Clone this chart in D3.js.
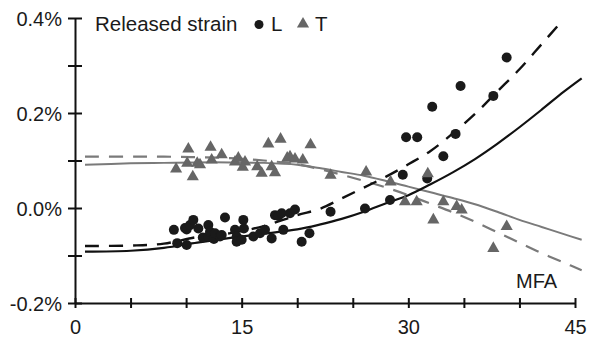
<!DOCTYPE html>
<html>
<head>
<meta charset="utf-8">
<script src="https://cdn.jsdelivr.net/npm/d3@7"></script>
<style>
  body { margin: 0; background: #fff; }
  svg text { font-family: "Liberation Sans", Arial, sans-serif; fill: #1a1a1a; }
</style>
</head>
<body>
<svg width="596" height="338"></svg>
<script>
// released strain, L (circles)
const mfaL = [8.9, 9.2, 9.9, 10.05, 10.05, 10.35, 10.65, 11.1, 11.5, 12.0, 12.0, 12.15, 12.5, 12.6, 13.05, 13.2, 13.5,
  14.4, 14.55, 14.55, 15.0, 15.15, 15.2, 16.05, 16.65, 17.1, 17.7, 18.0, 18.3, 18.6, 18.75, 19.35, 19.8, 20.4, 21.1,
  23.0, 26.1, 28.35, 29.5, 31.7, 29.8, 30.8, 32.15, 33.15, 34.25, 34.7, 37.65, 38.85];
const strainL = [-0.046, -0.074, -0.042, -0.045, -0.078, -0.036, -0.025, -0.043, -0.062, -0.036, -0.060, -0.050, -0.065, -0.053, -0.060, -0.057, -0.020,
  -0.046, -0.060, -0.071, -0.067, -0.025, -0.043, -0.060, -0.053, -0.046, -0.064, -0.015, -0.017, -0.011, -0.046, -0.011, -0.003, -0.071, -0.053,
  -0.008, -0.001, 0.017, 0.070, 0.062, 0.149, 0.149, 0.213, 0.109, 0.156, 0.257, 0.236, 0.317];

// released strain, T (triangles)
const mfaT = [9.1, 10.2, 10.1, 10.6, 11.0, 11.25, 12.2, 12.3, 13.2, 14.4, 14.7, 15.1, 15.3, 16.4, 16.8, 17.4, 17.7, 18.0,
  18.5, 19.1, 19.35, 19.8, 20.5, 21.2, 23.0, 26.2, 28.4, 29.7, 30.75, 31.75, 32.25, 33.15, 34.35, 34.8, 37.65, 38.85];
const strainT = [0.082, 0.124, 0.094, 0.066, 0.094, 0.091, 0.128, 0.101, 0.112, 0.097, 0.105, 0.086, 0.097, 0.087, 0.073, 0.135, 0.087, 0.074,
  0.145, 0.105, 0.108, 0.103, 0.101, 0.133, 0.069, 0.076, 0.055, 0.013, 0.013, 0.072, -0.025, 0.013, 0.003, -0.004, -0.085, -0.039];

// fitted curves
const fitMfa     = [0.9, 5, 8, 11, 14, 17, 20, 22, 24, 26, 28, 30, 32, 34, 36, 38, 40, 42, 44, 45.6];
const fitLSolid  = [-0.092, -0.090, -0.084, -0.073, -0.063, -0.054, -0.045, -0.035, -0.023, -0.008, 0.010, 0.027, 0.050, 0.075, 0.103, 0.135, 0.170, 0.207, 0.245, 0.273];
const fitLDashed = [-0.080, -0.079, -0.075, -0.061, -0.053, -0.038, -0.015, -0.002, 0.020, 0.043, 0.066, 0.092, 0.120, 0.157, 0.198, 0.245, 0.292, 0.345, 0.398, null];
const fitTSolid  = [0.091, 0.094, 0.095, 0.096, 0.096, 0.095, 0.091, 0.084, 0.076, 0.068, 0.057, 0.045, 0.033, 0.021, 0.008, -0.008, -0.025, -0.040, -0.055, -0.067];
const fitTDashed = [0.108, 0.108, 0.108, 0.107, 0.105, 0.100, 0.092, 0.082, 0.070, 0.057, 0.043, 0.027, 0.009, -0.009, -0.029, -0.051, -0.073, -0.095, -0.115, -0.131];

const xTicks = [0, 5, 10, 15, 20, 25, 30, 35, 40, 45];
const xLabels = [0, 15, 30, 45];
const yTicks = [-0.2, -0.1, 0, 0.1, 0.2, 0.3, 0.4];
const yLabels = [-0.2, 0, 0.2, 0.4];

const svg = d3.select("svg");

const x = d3.scaleLinear().domain([0, 45]).range([75, 575]);
const y = d3.scaleLinear().domain([-0.2, 0.4]).range([303, 18]);

// axes
const gx = svg.append("g")
  .attr("transform", "translate(0," + y(-0.2) + ")")
  .call(d3.axisBottom(x).tickValues(xTicks).tickSizeOuter(0).tickSizeInner(5).tickPadding(12)
    .tickFormat(d => xLabels.includes(d) ? String(d) : ""));
gx.select(".domain").attr("stroke", "#111").attr("stroke-width", 2);
gx.selectAll(".tick line").attr("y1", -5).attr("y2", 5).attr("stroke", "#111").attr("stroke-width", 2);
gx.selectAll(".tick text").style("font-size", "20px").attr("dy", "0.71em");

const gy = svg.append("g")
  .attr("transform", "translate(" + x(0) + ",0)")
  .call(d3.axisLeft(y).tickValues(yTicks).tickSizeOuter(0).tickSizeInner(7).tickPadding(6)
    .tickFormat(d => yLabels.some(v => Math.abs(v - d) < 1e-9) ? d.toFixed(1) + "%" : ""));
gy.select(".domain").attr("stroke", "#111").attr("stroke-width", 2);
gy.selectAll(".tick line").attr("x1", 7).attr("x2", -7).attr("stroke", "#111").attr("stroke-width", 2);
gy.selectAll(".tick text").style("font-size", "20px").attr("dy", "0.36em");

// fitted lines
function fitLine(vals) {
  return d3.line()
    .defined((d, i) => vals[i] !== null)
    .x((d, i) => x(fitMfa[i]))
    .y((d, i) => y(vals[i]))
    .curve(d3.curveCatmullRom)(fitMfa);
}

svg.append("path").attr("d", fitLine(fitTSolid))
  .attr("fill", "none").attr("stroke", "#7a7a7a").attr("stroke-width", 2);
svg.append("path").attr("d", fitLine(fitTDashed))
  .attr("fill", "none").attr("stroke", "#7a7a7a").attr("stroke-width", 2.2).attr("stroke-dasharray", "14,10");
svg.append("path").attr("d", fitLine(fitLSolid))
  .attr("fill", "none").attr("stroke", "#111").attr("stroke-width", 2.2);
svg.append("path").attr("d", fitLine(fitLDashed))
  .attr("fill", "none").attr("stroke", "#111").attr("stroke-width", 2.4).attr("stroke-dasharray", "14,10");

// points
const tri = d3.symbol().type(d3.symbolTriangle).size(64);

svg.append("g").selectAll("circle")
  .data(mfaL)
  .enter().append("circle")
  .attr("cx", d => x(d))
  .attr("cy", (d, i) => y(strainL[i]))
  .attr("r", 5)
  .attr("fill", "#1a1a1a");

svg.append("g").selectAll("path")
  .data(mfaT)
  .enter().append("path")
  .attr("d", tri)
  .attr("transform", (d, i) => "translate(" + x(d) + "," + y(strainT[i]) + ")")
  .attr("fill", "#666");

// legend
const lg = svg.append("g");
lg.append("text").attr("x", 95).attr("y", 31).style("font-size", "20.5px").text("Released strain");
lg.append("circle").attr("cx", 259).attr("cy", 24.5).attr("r", 4.5).attr("fill", "#1a1a1a");
lg.append("text").attr("x", 271).attr("y", 31).style("font-size", "20.5px").text("L");
lg.append("path").attr("d", tri).attr("transform", "translate(303,24)").attr("fill", "#666");
lg.append("text").attr("x", 315).attr("y", 31).style("font-size", "20.5px").text("T");

svg.append("text").attr("x", 516).attr("y", 288).style("font-size", "20px").text("MFA");
</script>
</body>
</html>
